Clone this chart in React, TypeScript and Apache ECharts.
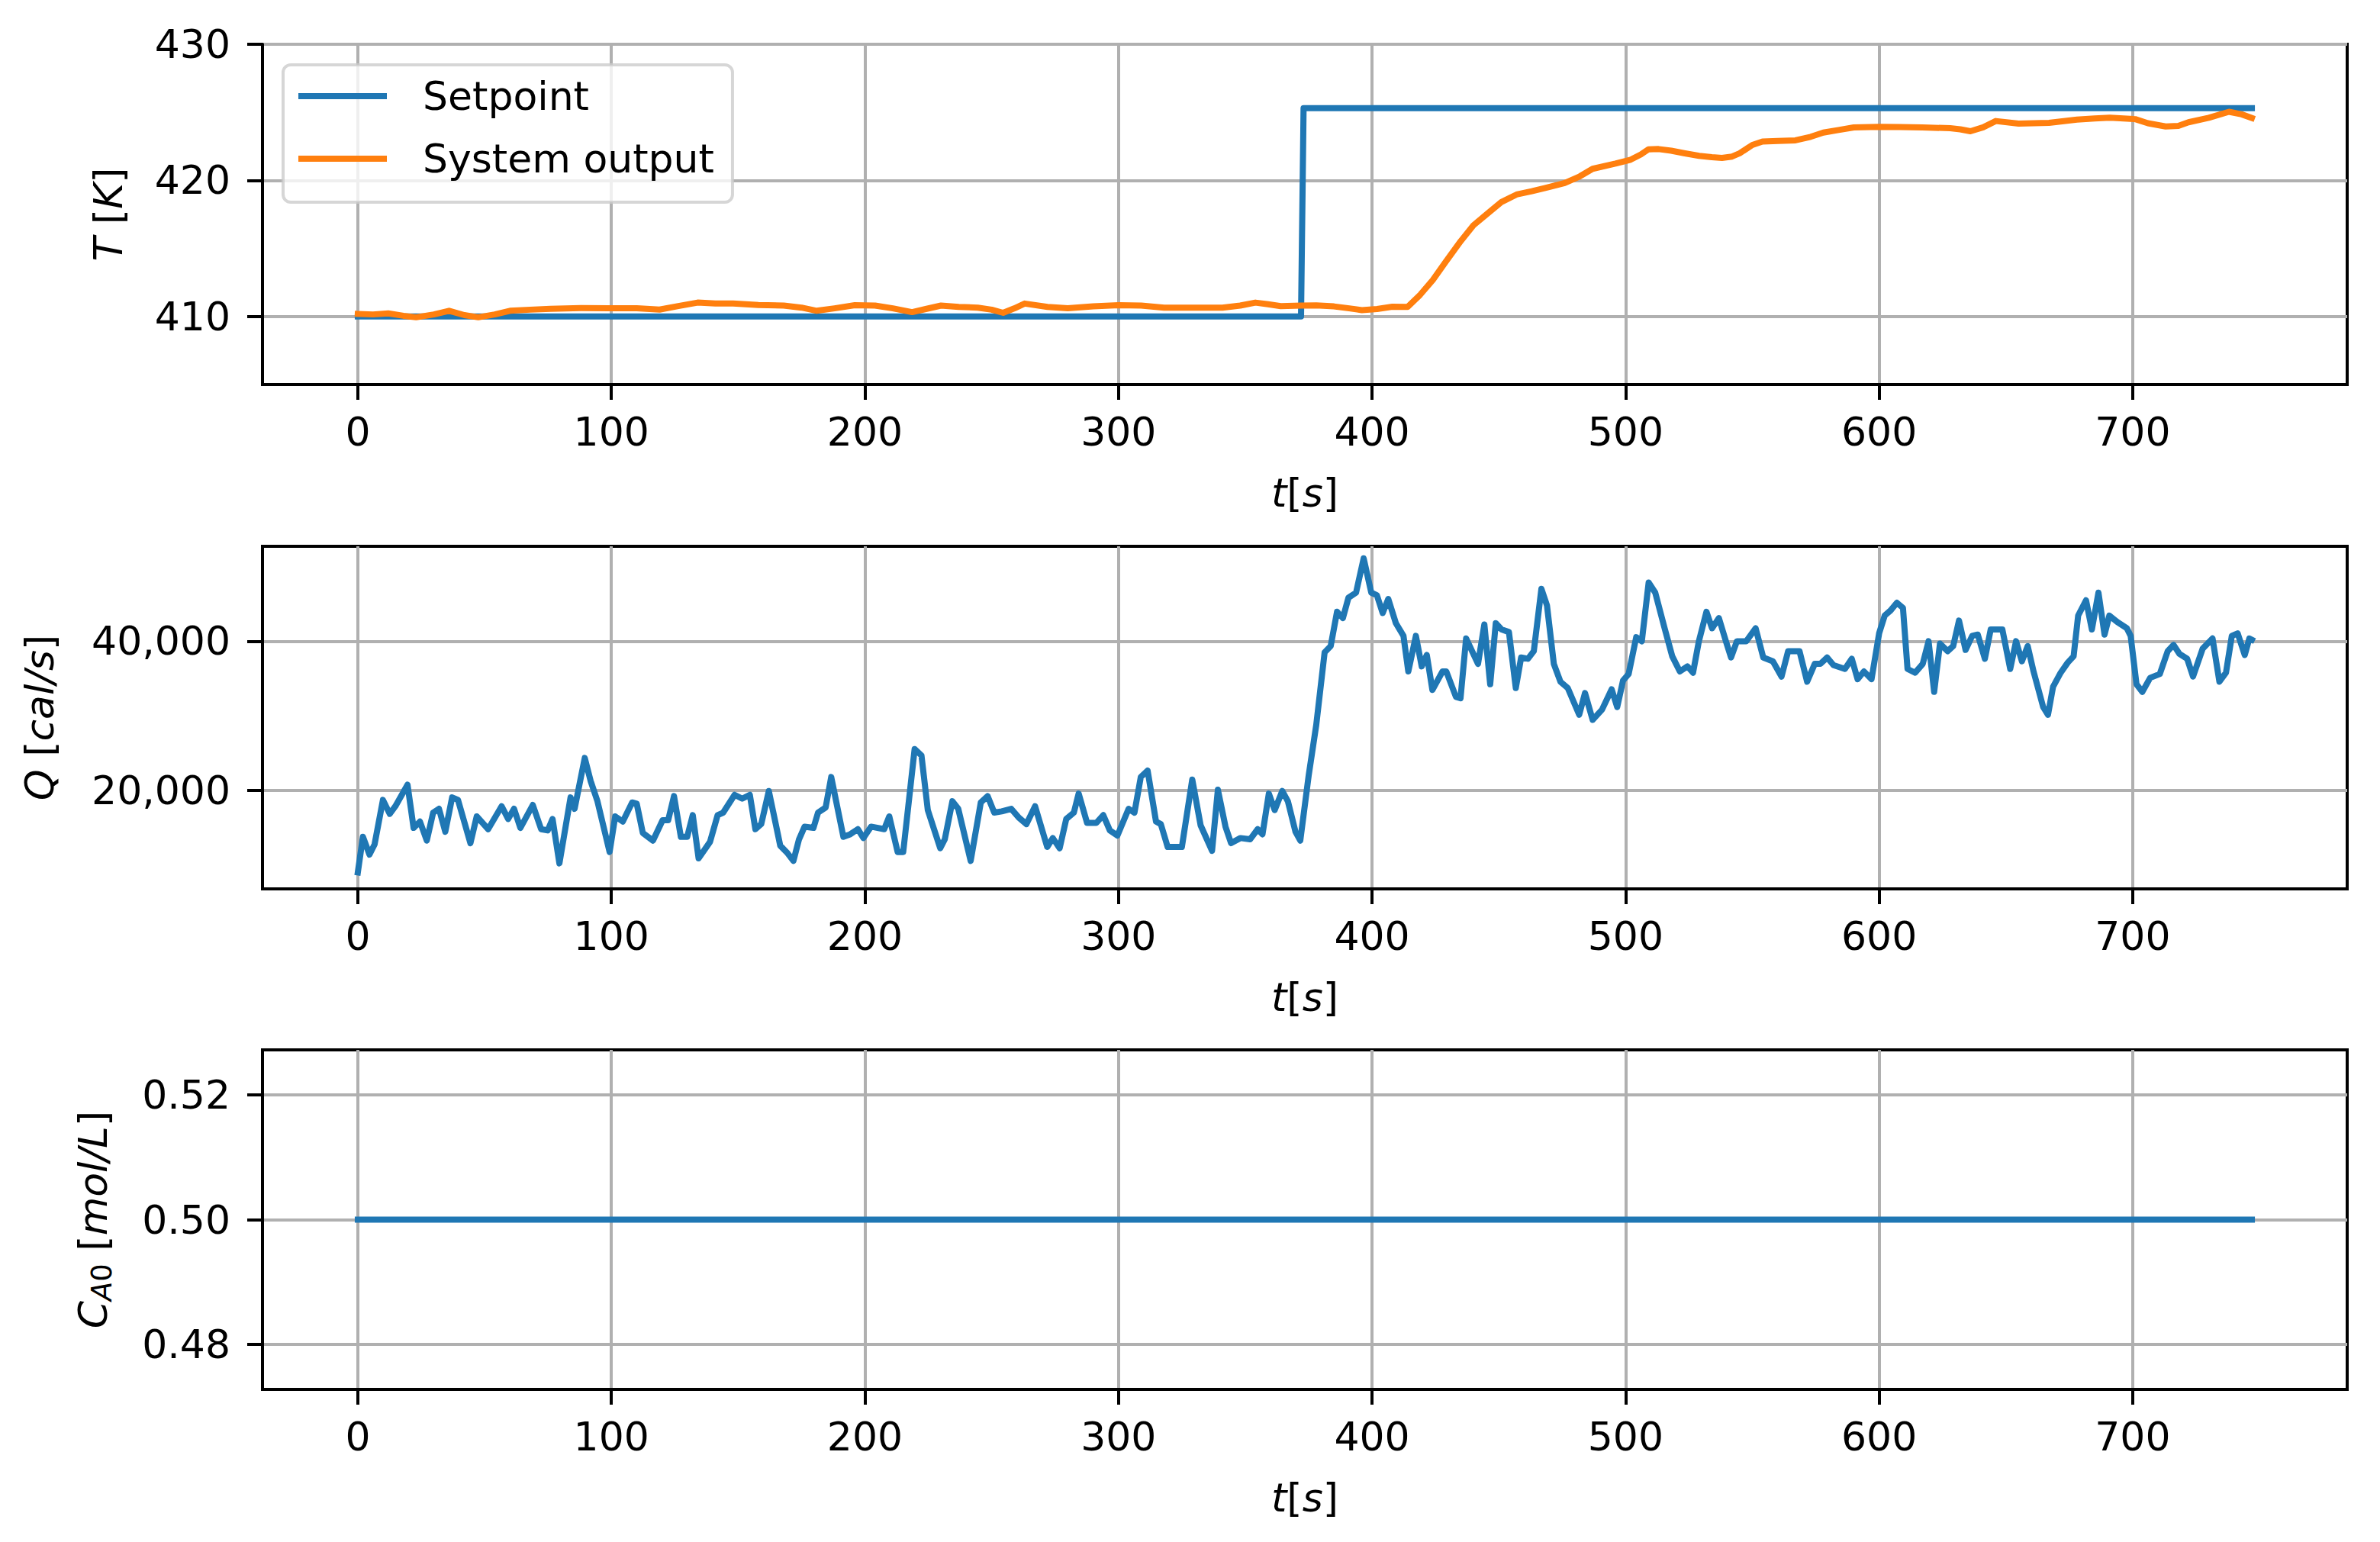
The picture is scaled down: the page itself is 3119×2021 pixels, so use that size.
import React, { useEffect, useRef } from 'react';
import * as echarts from 'echarts';

// time axis ticks and limits (matplotlib-style 5% margins around 0..747 s)
const xTicks = [0, 100, 200, 300, 400, 500, 600, 700];
const X_MIN = -37.6;
const X_MAX = 784.6;

// top panel: setpoint and measured reactor temperature [K]
const tempTicks = [410, 420, 430];
const setpointT = [0, 372, 373, 747];
const setpointV = [410, 410, 425.3, 425.3];

const outT = [
  0, 6, 12, 18, 23, 30, 36, 42, 47.5, 54, 60, 68, 76, 88, 99, 110, 119, 126, 134, 141,
  148, 158, 168, 175, 181, 188, 196, 204, 211, 218.6, 224, 230, 237, 244.5, 250, 254.5,
  259, 263, 272, 280, 290, 300, 309, 318, 330, 341, 348, 354, 359, 364, 372, 378, 385,
  391, 396, 402, 408, 414, 419, 424, 429, 435, 440, 446, 451, 457, 463, 468, 476, 482,
  487, 496, 502, 506, 509, 513, 518, 523, 529, 534, 538, 542, 545, 550, 554, 560, 567,
  573, 578, 584, 590, 600, 608, 617, 628, 632, 636, 641, 646, 655, 661, 667, 678, 685,
  691, 701, 706, 713, 718, 722, 730, 738, 743, 747,
];
const outV = [
  410.19, 410.15, 410.23, 410.05, 409.94, 410.15, 410.42, 410.1, 409.94, 410.15, 410.42,
  410.5, 410.57, 410.62, 410.61, 410.6, 410.51, 410.75, 411.02, 410.95, 410.95, 410.85,
  410.8, 410.65, 410.42, 410.6, 410.83, 410.8, 410.6, 410.32, 410.55, 410.8, 410.7,
  410.65, 410.5, 410.27, 410.6, 410.95, 410.7, 410.61, 410.75, 410.83, 410.8, 410.65,
  410.65, 410.65, 410.8, 411.02, 410.9, 410.76, 410.8, 410.82, 410.74, 410.6, 410.47,
  410.55, 410.72, 410.7, 411.6, 412.69, 414.0, 415.54, 416.7, 417.63, 418.4, 418.96,
  419.2, 419.43, 419.81, 420.3, 420.85, 421.23, 421.52, 421.9, 422.28, 422.3, 422.18,
  422.0, 421.8, 421.7, 421.65, 421.75, 421.99, 422.6, 422.85, 422.9, 422.94, 423.2,
  423.51, 423.7, 423.89, 423.93, 423.92, 423.89, 423.83, 423.75, 423.61, 423.9, 424.36,
  424.17, 424.2, 424.23, 424.46, 424.55, 424.6, 424.5, 424.2, 423.96, 424.0, 424.27,
  424.6, 425.04, 424.85, 424.58,
];

// middle panel: heat input Q [cal/s]
const qTicks = [20000, 40000];
const qT = [
  0, 2, 4.6, 6.6, 9.9, 12.6, 14.8, 19.6, 22, 24.5, 27.2, 29.7, 32, 34.5, 37.2, 39.5, 44.4,
  46.9, 51.4, 56.7, 59.3, 61.6, 64.1, 69, 72.3, 74.9, 76.8, 79.5, 83.9, 85.5, 89.5, 91.8,
  94.5, 99.3, 101.5, 104.5, 108.2, 110, 112.4, 116.4, 120.2, 122.4, 124.7, 127.4, 129.9,
  132.1, 134.4, 138.9, 141.9, 144.1, 148.6, 151.6, 154.6, 156.8, 159.1, 162.1, 166.6,
  169.5, 171.8, 174, 176.2, 179.7, 181.5, 184.5, 186.7, 191.5, 194.2, 197.2, 199.4, 202.4,
  207.6, 209.6, 212.9, 215.1, 219.6, 222.3, 224.8, 229.7, 231.5, 234.5, 236.8, 241.7,
  245.7, 248.4, 251, 254, 257.7, 260.7, 263.7, 267.1, 271.9, 274.1, 276.8, 279.4, 282.4,
  284.3, 287.6, 291.3, 294, 296.6, 299.6, 304, 306.3, 308.8, 311.5, 314.8, 316.7, 319.4,
  325, 329.1, 332.4, 336.9, 339.2, 342.2, 344.4, 348.1, 351.9, 354.9, 356.8, 359.3, 361.6,
  364.6, 366.8, 369.8, 371.7, 375, 378, 381.3, 383.7, 386.2, 388.5, 390.7, 393.7, 396.7,
  399.7, 401.9, 404.2, 406.4, 409.4, 412.4, 414.3, 417.3, 419.6, 421.6, 423.8, 427.8,
  429.3, 433.1, 434.9, 437.1, 441.8, 444.3, 446.6, 448.8, 451.1, 454, 456.7, 458.8, 461.5,
  463.8, 466.8, 469, 471.7, 474.3, 477.2, 481.7, 484, 487, 490.7, 494.5, 496.7, 499, 501.2,
  504.2, 506.4, 509.1, 511.7, 515.4, 518.4, 521.4, 524.4, 526.6, 528.9, 531.9, 534.1,
  536.8, 539.7, 541.6, 543.9, 547.6, 551.3, 554.3, 558.1, 561.5, 564.1, 568.6, 571.6,
  574.6, 576.8, 579.5, 582, 586.5, 589.2, 591.5, 594, 597, 600, 602.2, 604.5, 607, 609.4,
  611.2, 614.2, 617.2, 619.5, 621.7, 624, 627, 629.2, 631.5, 634.1, 636.7, 638.9, 641.7,
  644, 648.6, 651.7, 654, 656.3, 658.6, 660.9, 664.7, 666.6, 668.6, 671.6, 674.4, 676.7,
  678.5, 681.6, 683.9, 686.5, 688.9, 690.8, 693.9, 697.7, 699.2, 701.5, 703.8, 706.9,
  710.7, 713.8, 716.1, 718.4, 721.5, 723.8, 727.6, 731.5, 734.2, 736.8, 739.1, 741.4,
  744.2, 746, 747,
];
const qV = [
  9030, 13800, 11420, 12780, 18740, 16870, 17890, 20780, 14990, 15840, 13290, 17040, 17550,
  14480, 19080, 18740, 12950, 16530, 14820, 17890, 16190, 17550, 14990, 18060, 14820,
  14650, 16190, 10230, 19080, 17550, 24360, 21300, 18570, 11760, 16530, 15840, 18400,
  18230, 14310, 13290, 16020, 16020, 19250, 13800, 13800, 16700, 10910, 13120, 16700,
  17040, 19420, 18910, 19420, 14820, 15500, 19930, 12610, 11590, 10570, 13460, 15160,
  14990, 17040, 17720, 21810, 13800, 14140, 14820, 13630, 15160, 14820, 16530, 11760,
  11760, 25550, 24700, 17380, 12270, 13460, 18570, 17550, 10570, 18400, 19250, 17040,
  17210, 17550, 16360, 15500, 17890, 12440, 13630, 12270, 16190, 17040, 19590, 15670,
  15670, 16700, 14650, 13970, 17550, 17040, 21810, 22660, 15840, 15500, 12440, 12440,
  21470, 15330, 11930, 20100, 15160, 12950, 13630, 13460, 14820, 14140, 19590, 17380,
  19930, 18570, 14480, 13290, 21980, 28790, 38500, 39350, 43950, 43100, 45830, 46510,
  51110, 46510, 46170, 43780, 45660, 42420, 40720, 35950, 40720, 36630, 38160, 33480,
  35950, 35950, 32540, 32370, 40370, 36970, 42250, 34240, 42420, 41570, 41230, 33730,
  37820, 37650, 38670, 47020, 44800, 36970, 34580, 33730, 30150, 33050, 29470, 30830,
  33560, 31180, 34750, 35610, 40550, 40000, 47870, 46510, 41740, 37990, 35950, 36630,
  35780, 40000, 43950, 41740, 43100, 39860, 37820, 40000, 40000, 41740, 37820, 37310,
  35270, 38670, 38670, 34580, 36970, 36970, 37820, 36800, 36290, 37650, 34920, 35950,
  34920, 41060, 43440, 44120, 45150, 44460, 36290, 35780, 36970, 40000, 33220, 39690,
  38670, 39350, 42760, 38840, 40720, 40890, 37650, 41570, 41570, 36290, 40000, 37310,
  39350, 35950, 31180, 30150, 33900, 35780, 37140, 37990, 43440, 45490, 41570, 46510,
  40890, 43440, 42590, 41740, 40720, 34240, 33220, 35100, 35610, 38670, 39520, 38330,
  37650, 35270, 39010, 40370, 34580, 35780, 40720, 41060, 38160, 40370, 40200,
];

// bottom panel: feed concentration C_A0 [mol/L]
const cTicks = [0.48, 0.5, 0.52];
const cT = [0, 747];
const cV = [0.5, 0.5];

const pairs = (ts: number[], vs: number[]) => ts.map((t, i) => [t, vs[i]]);

const FONT = 'DejaVu Sans';
const BLUE = '#1f77b4';
const ORANGE = '#ff7f0e';

const richItalic = {
  i: { fontFamily: FONT, fontSize: 52, fontStyle: 'italic', color: '#000', lineHeight: 60 },
  r: { fontFamily: FONT, fontSize: 52, color: '#000', lineHeight: 60 },
  subI: { fontFamily: FONT, fontSize: 37, fontStyle: 'italic', color: '#000', lineHeight: 40, verticalAlign: 'bottom' },
  sub: { fontFamily: FONT, fontSize: 37, color: '#000', lineHeight: 40, verticalAlign: 'bottom' },
};

const makeX = (gridIndex: number) => ({
  type: 'value',
  gridIndex,
  min: X_MIN,
  max: X_MAX,
  name: '{i|t}{r|[}{i|s}{r|]}',
  nameLocation: 'middle',
  nameGap: 112,
  nameTextStyle: { fontFamily: FONT, fontSize: 52, color: '#000', rich: richItalic },
  axisLine: { show: true, onZero: false, lineStyle: { color: '#000', width: 4 } },
  axisTick: { show: true, length: 20, customValues: xTicks, lineStyle: { color: '#000', width: 4 } },
  axisLabel: {
    customValues: xTicks,
    margin: 36,
    fontFamily: FONT,
    fontSize: 52,
    lineHeight: 52,
    color: '#000',
  },
  splitLine: { show: true, lineStyle: { color: '#b0b0b0', width: 4 } },
});

const makeY = (
  gridIndex: number,
  min: number,
  max: number,
  ticks: number[],
  name: string,
  nameGap: number,
  fmt: (v: number) => string
) => ({
  type: 'value',
  gridIndex,
  min,
  max,
  name,
  nameLocation: 'middle',
  nameRotate: 90,
  nameGap,
  nameTextStyle: { fontFamily: FONT, fontSize: 52, color: '#000', rich: richItalic },
  axisLine: { show: true, onZero: false, lineStyle: { color: '#000', width: 4 } },
  axisTick: { show: true, length: 20, customValues: ticks, lineStyle: { color: '#000', width: 4 } },
  axisLabel: {
    customValues: ticks,
    margin: 42,
    fontFamily: FONT,
    fontSize: 52,
    color: '#000',
    formatter: (v: number) => fmt(v),
  },
  splitLine: { show: true, lineStyle: { color: '#b0b0b0', width: 4 } },
});

const lineSeries = (name: string, axis: number, data: number[][], color: string) => ({
  type: 'line',
  name,
  xAxisIndex: axis,
  yAxisIndex: axis,
  data,
  symbol: 'none',
  showSymbol: false,
  clip: true,
  itemStyle: { color },
  lineStyle: { color, width: 8, join: 'round', cap: 'square' },
});

const App: React.FC = () => {
  const chartRef = useRef<HTMLDivElement>(null);

  useEffect(() => {
    if (!chartRef.current) return;
    const chart = echarts.init(chartRef.current, undefined, { renderer: 'svg' });

    const gridBox = { left: 344, width: 2732, show: true, borderColor: '#000', borderWidth: 4 };

    const option = {
      animation: false,
      backgroundColor: '#ffffff',
      grid: [
        { ...gridBox, top: 58, height: 446 },
        { ...gridBox, top: 716, height: 449 },
        { ...gridBox, top: 1376, height: 445 },
      ],
      legend: {
        data: ['Setpoint', 'System output'],
        orient: 'vertical',
        left: 371,
        top: 85,
        icon: 'rect',
        itemWidth: 116,
        itemHeight: 8,
        itemGap: 22,
        padding: [11, 24, 27, 20],
        selectedMode: false,
        backgroundColor: 'rgba(255,255,255,0.8)',
        borderColor: 'rgba(204,204,204,0.8)',
        borderWidth: 4,
        borderRadius: 10,
        textStyle: {
          fontFamily: FONT,
          fontSize: 52,
          color: '#000',
          lineHeight: 60,
          padding: [0, 0, 0, 42],
        },
      },
      xAxis: [makeX(0), makeX(1), makeX(2)],
      yAxis: [
        makeY(0, 405, 430, tempTicks, '{i|T}{r| [}{i|K}{r|]}', 172, (v) => String(v)),
        makeY(1, 6820, 52720, qTicks, '{i|Q}{r| [}{i|cal/s}{r|]}', 262, (v) =>
          v.toLocaleString('en-US')
        ),
        makeY(2, 0.4728, 0.5272, cTicks, '{i|C}{subI|A}{sub|0}{r| [}{i|mol/L}{r|]}', 192, (v) =>
          v.toFixed(2)
        ),
      ],
      series: [
        lineSeries('Setpoint', 0, pairs(setpointT, setpointV), BLUE),
        lineSeries('System output', 0, pairs(outT, outV), ORANGE),
        lineSeries('Q', 1, pairs(qT, qV), BLUE),
        lineSeries('C_A0', 2, pairs(cT, cV), BLUE),
      ],
    };

    chart.setOption(option as any);

    const handleResize = () => chart.resize();
    window.addEventListener('resize', handleResize);

    return () => {
      window.removeEventListener('resize', handleResize);
      chart.dispose();
    };
  }, []);

  return (
    <div
      ref={chartRef}
      style={{
        position: 'fixed',
        left: 0,
        top: 0,
        width: '3119px',
        height: '2021px',
        background: '#fff',
        overflow: 'hidden',
      }}
    />
  );
};

export default App;
